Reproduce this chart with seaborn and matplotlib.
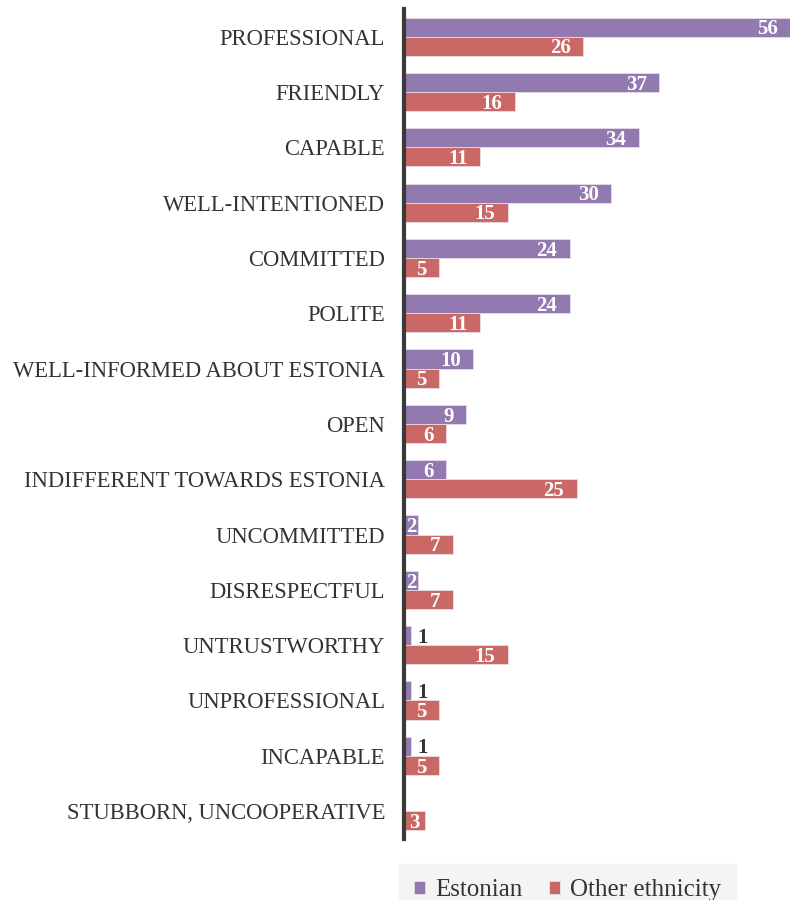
import pandas as pd
import numpy as np
import matplotlib.pyplot as plt
import seaborn as sns

categories = ["PROFESSIONAL", "FRIENDLY", "CAPABLE", "WELL-INTENTIONED", "COMMITTED",
              "POLITE", "WELL-INFORMED ABOUT ESTONIA", "OPEN", "INDIFFERENT TOWARDS ESTONIA",
              "UNCOMMITTED", "DISRESPECTFUL", "UNTRUSTWORTHY", "UNPROFESSIONAL",
              "INCAPABLE", "STUBBORN, UNCOOPERATIVE"]
estonian = [56, 37, 34, 30, 24, 24, 10, 9, 6, 2, 2, 1, 1, 1, 0]
other = [26, 16, 11, 15, 5, 11, 5, 6, 25, 7, 7, 15, 5, 5, 3]
groups = ["Estonian", "Other ethnicity"]

df = pd.DataFrame({
    "category": categories * 2,
    "value": estonian + other,
    "group": [groups[0]] * len(categories) + [groups[1]] * len(categories),
})

sns.set_style("white")
plt.rcParams['font.family'] = ['Liberation Serif', 'DejaVu Serif']

fig, ax = plt.subplots(figsize=(7.9, 9), dpi=100)
fig.subplots_adjust(left=0.512, right=1.0, top=0.99, bottom=0.068)

palette = {"Estonian": "#9279B0", "Other ethnicity": "#C96864"}
sns.barplot(data=df, y="category", x="value", hue="group", order=categories,
            hue_order=groups, palette=palette, orient="h", width=0.69, gap=0,
            edgecolor="#e8dce8", linewidth=0.6, saturation=1, ax=ax)

ax.set_xlim(0, 56)
ax.set_ylim(14.5, -0.5)
ax.set_xlabel("")
ax.set_ylabel("")
ax.set_xticks([])
ax.tick_params(axis="y", length=0, labelsize=16.3, colors="#333333", pad=14)
for lbl in ax.get_yticklabels():
    lbl.set_va("center_baseline")
for s in ["top", "right", "bottom"]:
    ax.spines[s].set_visible(False)
ax.spines["left"].set_color("#3a3a3a")
ax.spines["left"].set_linewidth(3)

# value labels
for container in ax.containers:
    for bar in container:
        v = bar.get_width()
        y = bar.get_y() + bar.get_height() / 2 + 0.04
        if v == 0:
            continue
        if v == 1:
            ax.text(v + 0.9, y, "1", ha="left", va="center", fontsize=15,
                    fontweight="bold", color="#333333")
        elif v <= 3:
            ax.text(max(v / 2, 0.6), y, f"{int(v)}", ha="center", va="center", fontsize=15,
                    fontweight="bold", color="white")
        else:
            ax.text(v - 1.8, y, f"{int(v)}", ha="right", va="center", fontsize=15,
                    fontweight="bold", color="white")

leg = ax.legend(loc="upper center", bbox_to_anchor=(0.423, -0.04), ncol=2, frameon=True,
                fontsize=18, handlelength=0.45, handleheight=0.45, handletextpad=0.4,
                columnspacing=1.05, borderpad=0.3, borderaxespad=0)
leg.get_frame().set_facecolor("#f2f2f2")
leg.get_frame().set_edgecolor("#f2f2f2")
leg.get_frame().set_boxstyle("square")
for t in leg.get_texts():
    t.set_color("#333333")

plt.savefig("out.png", dpi=100)
